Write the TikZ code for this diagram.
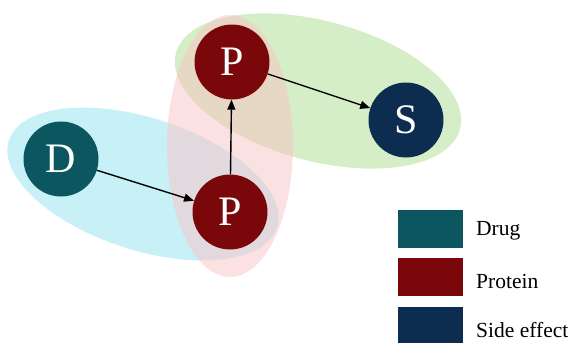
\documentclass[tikz,border=0pt]{standalone}
\usepackage{fontspec}
\setmainfont{Liberation Serif}
\usetikzlibrary{arrows.meta}
\definecolor{drugc}{RGB}{12,86,96}
\definecolor{protc}{RGB}{122,8,10}
\definecolor{sidec}{RGB}{12,44,80}
\definecolor{cyanbg}{RGB}{200,240,247}
\definecolor{greenbg}{RGB}{213,238,200}
\definecolor{pinkbg}{RGB}{250,196,198}
\tikzset{
  ent/.style={circle, minimum size=75pt, inner sep=0pt, text=white, font=\fontsize{42}{42}\selectfont},
  link/.style={-{Triangle[length=10pt,width=8pt]}, line width=1.4pt, black},
  keybox/.style={minimum width=65pt, minimum height=38pt, inner sep=0pt},
  keytext/.style={anchor=west, font=\fontsize{21.5}{21.5}\selectfont, inner sep=0pt}
}
\begin{document}
\begin{tikzpicture}[x=1pt,y=-1pt]
\useasboundingbox (0,0) rectangle (574,343);
% grouping ellipses
\fill[cyanbg] (143,184) ellipse[x radius=141, y radius=66, rotate=-18];
\fill[greenbg] (318,91) ellipse[x radius=147, y radius=70, rotate=-15];
\fill[pinkbg, fill opacity=0.5] (230,146) ellipse[x radius=63, y radius=131];
% entities
\node[ent, fill=drugc] (d) at (61,159) {D};
\node[ent, fill=protc] (p1) at (230,212) {P};
\node[ent, fill=protc] (p2) at (232,62) {P};
\node[ent, fill=sidec] (s) at (406,120) {S};
% interactions
\draw[link] (d) -- (p1);
\draw[link] (p1) -- (p2);
\draw[link] (p2) -- (s);
% legend
\node[keybox, fill=drugc] (k1) at (430,229) {};
\node[keybox, fill=protc] (k2) at (430,277) {};
\node[keybox, fill=sidec] (k3) at (430,326) {};
\node[keytext] (t1) at (476,231) {Drug};
\node[keytext] (t2) at (476,281) {Protein};
\node[keytext] (t3) at (476,330) {Side effect};
\end{tikzpicture}
\end{document}
